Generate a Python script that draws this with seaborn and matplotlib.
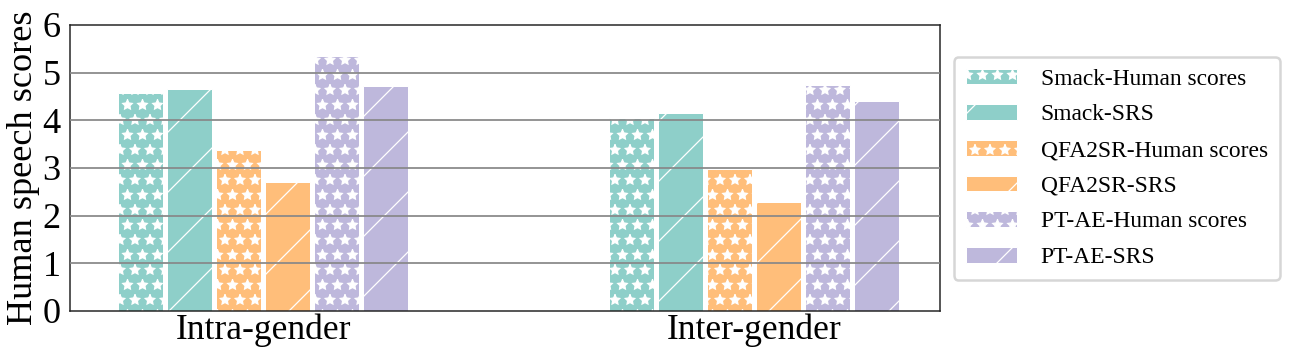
"""
Grouped bar chart: human speech scores vs SRS for three attack methods.
"""

import pandas as pd
import matplotlib.pyplot as plt
import seaborn as sns

# data
groups = ['Intra-gender', 'Inter-gender']
series = ['Smack-Human scores', 'Smack-SRS',
          'QFA2SR-Human scores', 'QFA2SR-SRS',
          'PT-AE-Human scores', 'PT-AE-SRS']
intra_scores = [4.57, 4.65, 3.38, 2.70, 5.35, 4.72]
inter_scores = [4.05, 4.15, 2.97, 2.28, 4.75, 4.40]
colors = ['#8ECFC9', '#8ECFC9', '#FFBE7A', '#FFBE7A', '#BEB8DC', '#BEB8DC']
hatches = ['**', '/', '**', '/', '**', '/']

rows = []
for g, vals in zip(groups, [intra_scores, inter_scores]):
    for s, v in zip(series, vals):
        rows.append({'group': g, 'method': s, 'score': v})
df = pd.DataFrame(rows)

sns.set_style('white')
plt.rcParams['font.family'] = ['Liberation Serif', 'DejaVu Serif']
plt.rcParams['hatch.linewidth'] = 0.5
for key in ['text.color', 'axes.labelcolor', 'xtick.color', 'ytick.color']:
    plt.rcParams[key] = 'black'

DPI = 180
fig = plt.figure(figsize=(1304 / DPI, 362 / DPI), dpi=DPI)
ax = fig.add_axes([0.054, 0.141, 0.667, 0.790])

sns.barplot(data=df, x='group', y='score', hue='method', order=groups,
            hue_order=series, palette=colors, saturation=1, width=0.6,
            gap=0.08, edgecolor='white', linewidth=0.4, ax=ax, legend=False)

for cont, h in zip(ax.containers, hatches):
    for p in cont.patches:
        p.set_hatch(h)
        p.set_edgecolor('white')

# horizontal grid drawn over the bars
for yv in range(1, 6):
    ax.axhline(yv, color='#888888', lw=0.7, zorder=5)

ax.set_ylim(0, 6)
ax.set_xlim(-0.393, 1.380)
ax.set_yticks(range(0, 7))
ax.set_xlabel('')
ax.set_ylabel('Human speech scores', fontsize=14.5, labelpad=1)
ax.tick_params(axis='y', labelsize=14.5, length=3, width=0.6, pad=1)
ax.tick_params(axis='x', labelsize=14.2, length=0, pad=1)
for sp in ax.spines.values():
    sp.set_linewidth(0.6)
    sp.set_color('#222222')

handles = [c.patches[0] for c in ax.containers]
fig.legend(handles=handles, labels=series, loc='center left',
           bbox_to_anchor=(0.726, 0.535), fontsize=9.4, frameon=True,
           fancybox=True, edgecolor='#cccccc', handlelength=2.2,
           handleheight=0.65, handletextpad=1.0, labelspacing=0.62,
           borderpad=0.5, borderaxespad=0.3)

fig.savefig('out.png', dpi=DPI)
